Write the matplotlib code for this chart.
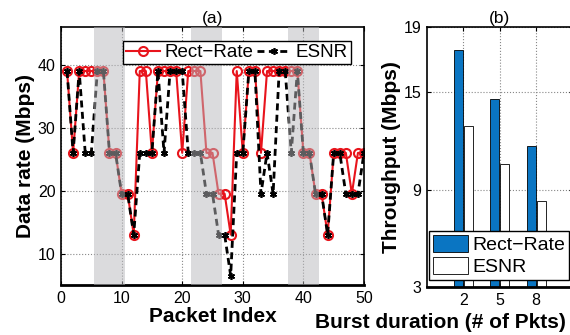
import matplotlib
matplotlib.use("Agg")
import matplotlib.pyplot as plt
import numpy as np

plt.rcParams['font.family'] = ['Liberation Sans', 'DejaVu Sans']

packet_index = list(range(1, 51))
rect_rate = [39, 26, 39, 39, 39, 39, 39, 26, 26, 19.5,
             19.5, 13, 39, 39, 26, 39, 39, 39, 39, 26,
             39, 39, 39, 26, 26, 19.5, 19.5, 13, 39, 26,
             39, 39, 26, 39, 39, 39, 39, 39, 39, 26,
             26, 19.5, 19.5, 13, 26, 26, 26, 19.5, 26, 26]
esnr = [39, 26, 39, 26, 26, 39, 39, 26, 26, 19.5,
        19.5, 13, 26, 26, 26, 39, 26, 39, 39, 39,
        26, 26, 26, 19.5, 19.5, 13, 13, 6.5, 26, 26,
        39, 39, 19.5, 26, 19.5, 39, 39, 26, 39, 26,
        26, 19.5, 19.5, 13, 26, 26, 19.5, 19.5, 19.5, 26]
shaded = [(5.5, 10.5), (21.5, 26.5), (37.5, 42.5)]

burst = [2, 5, 8]
thr_rect = [17.6, 14.6, 11.7]
thr_esnr = [12.9, 10.6, 8.3]

fig = plt.figure(figsize=(5.7, 3.35), dpi=100)

# ---- (a)
ax1 = fig.add_axes([61/570, 50/335, 303/570, 258/335])
ax1.plot(packet_index, rect_rate, '-', color='#e8141c', lw=1.5, marker='o',
         ms=6.5, mfc='none', mec='#e8141c', mew=1.5, label='Rect\u2212Rate', zorder=2)
ax1.plot(packet_index, esnr, '--', color='black', lw=2, dashes=(2.5, 1.6),
         marker=(6, 2, 0), ms=5, mew=1.2, label='ESNR', zorder=2.5)
for a, b in shaded:
    ax1.axvspan(a, b, color='#b8b8bc', alpha=0.5, lw=0, zorder=3)
ax1.set_xlim(0, 50)
ax1.set_ylim(5, 46)
ax1.set_xticks([0, 10, 20, 30, 40, 50])
ax1.set_yticks([10, 20, 30, 40])
ax1.grid(True, ls=':', color='#888888', lw=0.8)
ax1.set_axisbelow(True)
ax1.tick_params(direction='in', labelsize=11.5, length=3, top=True, right=True, pad=4)
ax1.set_title('(a)', fontsize=12.5, pad=3)
ax1.set_ylabel('Data rate (Mbps)', fontsize=15, fontweight='bold', labelpad=2)
ax1.set_xlabel('Packet Index', fontsize=15, fontweight='bold', labelpad=1)
for s in ax1.spines.values():
    s.set_linewidth(1.2)
ax1.spines['bottom'].set_linewidth(2)
leg = ax1.legend(loc='upper right', ncol=2, fontsize=13.5, handlelength=1.8,
                 columnspacing=0.2, handletextpad=0.25, borderpad=0.15,
                 fancybox=False, framealpha=1, edgecolor='black',
                 bbox_to_anchor=(1 - 4/303, 1 - 5/258))
leg.get_frame().set_linewidth(1)

# ---- (b)
ax2 = fig.add_axes([426.7/570, 48/335, 146/570, 260/335])
xb = np.array(burst, dtype=float)
ax2.bar(xb - 0.4, thr_rect, width=0.75, color='#0a75c2', edgecolor='black',
        lw=0.6, label='Rect\u2212Rate', zorder=2)
ax2.bar(xb + 0.4, thr_esnr, width=0.75, color='white', edgecolor='black',
        lw=0.6, label='ESNR', zorder=2)
ax2.set_xlim(-1, 11)
ax2.set_ylim(3, 19)
ax2.set_xticks(burst)
ax2.set_yticks([3, 9, 15, 19])
ax2.grid(True, ls=':', color='#888888', lw=0.8)
ax2.set_axisbelow(True)
ax2.tick_params(direction='in', labelsize=11.5, length=3, top=True, right=True, pad=4)
ax2.set_title('(b)', fontsize=12.5, pad=3)
ax2.set_ylabel('Throughput (Mbps)', fontsize=15, fontweight='bold', labelpad=2)
for s in ax2.spines.values():
    s.set_linewidth(1.2)
ax2.spines['bottom'].set_linewidth(2)
leg2 = ax2.legend(loc='lower left', fontsize=14, handlelength=1.8,
                  handleheight=0.95, handletextpad=0.25, borderpad=0.2,
                  labelspacing=0.15, fancybox=False, framealpha=1,
                  edgecolor='black', bbox_to_anchor=(2/146, 7/260),
                  borderaxespad=0)
leg2.get_frame().set_linewidth(1)
fig.text(440/570, 1 - 322/335, 'Burst duration (# of Pkts)', fontsize=15,
         fontweight='bold', ha='center', va='center')

fig.savefig('out.png', dpi=100)
